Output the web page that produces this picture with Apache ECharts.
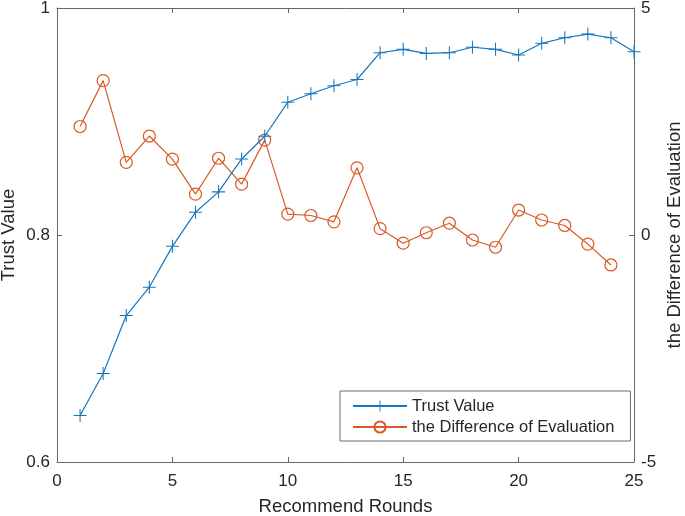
<!DOCTYPE html>
<html><head><meta charset="utf-8">
<script src="https://cdn.jsdelivr.net/npm/echarts@6/dist/echarts.min.js"></script>
<style>html,body{margin:0;padding:0;background:#fff}#c{width:685px;height:516px}</style>
</head><body><div id="c"></div>
<script>
const rounds = [1,2,3,4,5,6,7,8,9,10,11,12,13,14,15,16,17,18,19,20,21,22,23,24,25];
const trustValue = [0.641,0.678,0.729,0.754,0.790,0.820,0.838,0.867,0.887,0.917,0.9245,0.9315,0.937,0.9606,0.9636,0.960,0.9606,0.9654,0.9636,0.9586,0.9689,0.9738,0.977,0.9738,0.9615];
const diffRounds = [1,2,3,4,5,6,7,8,9,10,11,12,13,14,15,16,17,18,19,20,21,22,23,24];
const diffEval = [2.39,3.40,1.60,2.18,1.67,0.90,1.69,1.12,2.09,0.46,0.43,0.29,1.48,0.14,-0.18,0.05,0.26,-0.11,-0.27,0.55,0.33,0.21,-0.20,-0.66];
const xTicks = [0,5,10,15,20,25];
const leftTicks = [0.6,0.8,1];
const rightTicks = [-5,0,5];

const blue = '#1476c0', orange = '#da5a26', axisCol = '#666666', txt = '#262626';
const font = 'Liberation Sans, Arial, sans-serif';
const plus = 'path://M4.6,0h0.8v4.6h4.6v0.8h-4.6v4.6h-0.8v-4.6h-4.6v-0.8h4.6z';

const chart = echarts.init(document.getElementById('c'));
const baseAxis = {
  axisLine:{show:true,onZero:false,lineStyle:{color:axisCol,width:1}},
  axisTick:{show:true,inside:true,length:5,lineStyle:{color:axisCol}},
  splitLine:{show:false},
  axisLabel:{color:txt,fontFamily:font,fontSize:17}
};
const nameStyle = {color:txt,fontFamily:font,fontSize:18.5};
chart.setOption({
  animation:false,
  backgroundColor:'#fff',
  grid:{left:57,right:51,top:8,bottom:54,containLabel:false,outerBoundsMode:'none'},
  legend:{
    orient:'vertical', left:340, top:391,
    padding:[6,16,5,12], itemGap:3, itemWidth:54, itemHeight:14,
    borderColor:'#6a6a6a', borderWidth:1, backgroundColor:'#fff',
    textStyle:{color:txt,fontFamily:font,fontSize:16.5,lineHeight:18},
    data:['Trust Value','the Difference of Evaluation']
  },
  xAxis:[
    Object.assign({}, baseAxis, {type:'value',min:xTicks[0],max:xTicks[xTicks.length-1],interval:5,
      position:'bottom',name:'Recommend Rounds',nameLocation:'middle',nameGap:35,
      nameTextStyle:nameStyle,
      axisLabel:Object.assign({},baseAxis.axisLabel,{margin:11})}),
    Object.assign({}, baseAxis, {type:'value',min:0,max:25,interval:5,position:'top',
      axisLabel:{show:false}})
  ],
  yAxis:[
    Object.assign({}, baseAxis, {type:'value',min:0.6,max:1,interval:0.2,position:'left',
      name:'Trust Value',nameLocation:'middle',nameGap:39,nameMoveOverlap:false,
      nameTextStyle:nameStyle,
      axisLabel:Object.assign({},baseAxis.axisLabel,{margin:7,formatter:v=>leftTicks.includes(+v.toFixed(1))?String(+v.toFixed(1)):''})}),
    Object.assign({}, baseAxis, {type:'value',min:-5,max:5,interval:5,position:'right',
      name:'the Difference of Evaluation',nameLocation:'middle',nameGap:31,nameRotate:90,nameMoveOverlap:false,
      nameTextStyle:nameStyle,
      axisLabel:Object.assign({},baseAxis.axisLabel,{margin:7,formatter:v=>rightTicks.includes(v)?String(v):''})})
  ],
  series:[
    {name:'Trust Value',type:'line',xAxisIndex:0,yAxisIndex:0,
     data:rounds.map((r,i)=>[r,trustValue[i]]),
     symbol:plus,symbolSize:13,showAllSymbol:true,
     lineStyle:{color:blue,width:1.2},itemStyle:{color:blue},z:3},
    {name:'the Difference of Evaluation',type:'line',xAxisIndex:0,yAxisIndex:1,
     data:diffRounds.map((r,i)=>[r,diffEval[i]]),
     symbol:'circle',symbolSize:12,showAllSymbol:true,
     lineStyle:{color:orange,width:1.2},
     itemStyle:{color:'rgba(255,255,255,0)',borderColor:orange,borderWidth:1.2},z:2}
  ]
});
</script></body></html>
